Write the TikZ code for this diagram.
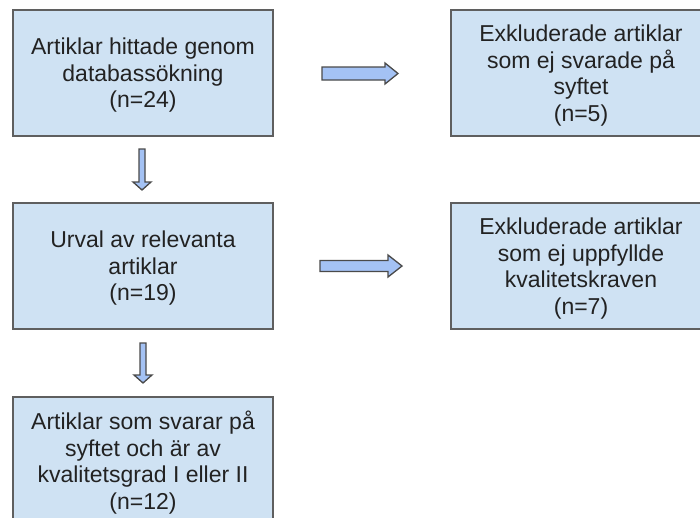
\documentclass[tikz,border=0pt]{standalone}
\usepackage{fontspec}
\setmainfont{Liberation Sans}
\definecolor{boxfill}{HTML}{CFE2F3}
\definecolor{boxline}{HTML}{5F5F5F}
\definecolor{arrfill}{HTML}{A4C2F4}
\definecolor{arrline}{HTML}{4A4A4A}
\definecolor{txt}{HTML}{222222}
\tikzset{
  stagebox/.style={draw=boxline, line width=1.4pt, fill=boxfill, minimum width=260pt, minimum height=126pt,
    align=center, text=txt, font=\fontsize{23}{26.5}\selectfont, inner sep=0pt, text depth=0pt},
  blockarrow/.style={draw=arrline, line width=1.3pt, fill=arrfill, line join=miter}
}
\begin{document}
\begin{tikzpicture}[x=1pt,y=-1pt]
\useasboundingbox (0,0) rectangle (700,517);
\clip (0,0) rectangle (700,517);
\fill[white] (0,0) rectangle (700,517);
\node[stagebox] (b1) at (143,73) {Artiklar hittade genom\\databassökning\\(n=24)};
\node[stagebox] (b2) at (581,73) {Exkluderade artiklar\\som ej svarade på\\syftet\\(n=5)};
\node[stagebox] (b3) at (143,266) {Urval av relevanta\\artiklar\\(n=19)};
\node[stagebox] (b4) at (581,266) {Exkluderade artiklar\\som ej uppfyllde\\kvalitetskraven\\(n=7)};
\node[stagebox] (b5) at (143,460) {Artiklar som svarar på\\syftet och är av\\kvalitetsgrad I eller II\\(n=12)};
% right arrows
\draw[blockarrow] (322,67) -- (385,67) -- (385,63) -- (398,73.5) -- (385,84) -- (385,80) -- (322,80) -- cycle;
\draw[blockarrow] (320,260.5) -- (388,260.5) -- (388,255) -- (402,266) -- (388,277) -- (388,271.5) -- (320,271.5) -- cycle;
% down arrows
\draw[blockarrow] (139,149) -- (145,149) -- (145,182) -- (151,182) -- (142,190) -- (133,182) -- (139,182) -- cycle;
\draw[blockarrow] (140,343) -- (146,343) -- (146,375) -- (152,375) -- (143,383) -- (134,375) -- (140,375) -- cycle;
\end{tikzpicture}
\end{document}
